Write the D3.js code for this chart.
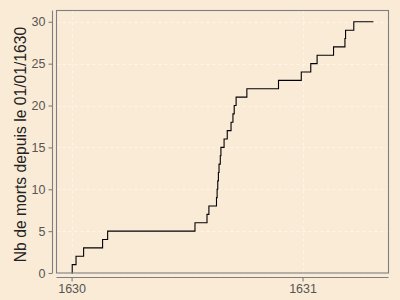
<!DOCTYPE html>
<html>
<head>
<meta charset="utf-8">
<script src="https://d3js.org/d3.v7.min.js"></script>
<style>
  body { margin: 0; background: #FAEBD7; }
  svg { display: block; }
</style>
</head>
<body>
<svg id="chart" width="400" height="300"></svg>
<script>
// Dates of each death and cumulative count
var dates = ["1630-01-01", "1630-01-02", "1630-01-08", "1630-01-20", "1630-02-19", "1630-02-27",
  "1630-07-15", "1630-08-03", "1630-08-06", "1630-08-18", "1630-08-19", "1630-08-20",
  "1630-08-21", "1630-08-22", "1630-08-24", "1630-08-25", "1630-08-30", "1630-09-04",
  "1630-09-10", "1630-09-13", "1630-09-15", "1630-09-18", "1630-10-05", "1630-11-24",
  "1630-12-30", "1631-01-14", "1631-01-24", "1631-02-19", "1631-03-09", "1631-03-10",
  "1631-03-23", "1631-04-23"];
var counts = [0, 1, 2, 3, 4, 5, 6, 7, 8, 9, 10, 11, 12, 13, 14, 15, 16, 17, 18, 19, 20, 21,
  22, 23, 24, 25, 26, 27, 28, 29, 30, 30];
var yTicks = [0, 5, 10, 15, 20, 25, 30];
var xTicks = ["1630-01-01", "1631-01-01"];
var yTitle = "Nb de morts depuis le 01/01/1630";

var parse = d3.timeParse("%Y-%m-%d");
var data = dates.map(function(d, i) { return { date: parse(d), n: counts[i] }; });

var svg = d3.select("#chart");
// panel edges (avoid "top", it is window.top)
var pLeft = 56.5, pRight = 388.5, pTop = 10.5, pBottom = 273;

// x range padded 5% like ggplot
var ext = d3.extent(data, function(d) { return d.date; });
var span = ext[1] - ext[0];
var x = d3.scaleTime()
  .domain([new Date(+ext[0] - span * 0.05), new Date(+ext[1] + span * 0.05)])
  .range([pLeft, pRight]);
var y = d3.scaleLinear().domain([0, 31.35]).range([pBottom, pTop]);

svg.append("rect")
  .attr("x", 0).attr("y", 0).attr("width", 400).attr("height", 300)
  .attr("fill", "#FAEBD7");

// grid
var grid = svg.append("g").attr("stroke", "#FFF6EC").attr("stroke-dasharray", "3,3").attr("stroke-width", 0.8);
grid.selectAll(".gy").data(yTicks).enter().append("line")
  .attr("x1", pLeft).attr("x2", pRight)
  .attr("y1", function(d) { return Math.round(y(d)) + 0.5; })
  .attr("y2", function(d) { return Math.round(y(d)) + 0.5; });
grid.selectAll(".gx").data(xTicks).enter().append("line")
  .attr("y1", pTop).attr("y2", pBottom)
  .attr("x1", function(d) { return Math.round(x(parse(d))) + 0.5; })
  .attr("x2", function(d) { return Math.round(x(parse(d))) + 0.5; });

// step line
var line = d3.line()
  .curve(d3.curveStepAfter)
  .x(function(d) { return x(d.date); })
  .y(function(d) { return y(d.n); });
svg.append("path")
  .datum(data)
  .attr("d", line)
  .attr("fill", "none")
  .attr("stroke", "#000")
  .attr("stroke-width", 1.1);

// panel border
svg.append("rect")
  .attr("x", pLeft).attr("y", pTop)
  .attr("width", pRight - pLeft).attr("height", pBottom - pTop)
  .attr("fill", "none").attr("stroke", "#7F7F7F").attr("stroke-width", 1.1);

// y axis (offset from panel)
var yAxis = svg.append("g")
  .attr("transform", "translate(52.5,0)")
  .call(d3.axisLeft(y).tickValues(yTicks).tickSize(4).tickPadding(3));
yAxis.select(".domain").attr("d", "M0," + pTop + "V" + pBottom);

// x axis (offset from panel)
var xAxis = svg.append("g")
  .attr("transform", "translate(0,277.5)")
  .call(d3.axisBottom(x).tickValues(xTicks.map(parse)).tickFormat(d3.timeFormat("%Y")).tickSize(4).tickPadding(3));
xAxis.select(".domain").attr("d", "M" + pLeft + ",0H" + pRight);

svg.selectAll(".domain, .tick line").attr("stroke", "#7F7F7F").attr("stroke-width", 1.1);
svg.selectAll(".tick text")
  .attr("fill", "#555")
  .style("font-family", "Liberation Sans, Arial, sans-serif")
  .style("font-size", "12.5px");

// y title
svg.append("text")
  .attr("transform", "translate(26,144.5) rotate(-90)")
  .attr("text-anchor", "middle")
  .attr("fill", "#222")
  .style("font-family", "Liberation Sans, Arial, sans-serif")
  .style("font-size", "15.7px")
  .text(yTitle);
</script>
</body>
</html>
